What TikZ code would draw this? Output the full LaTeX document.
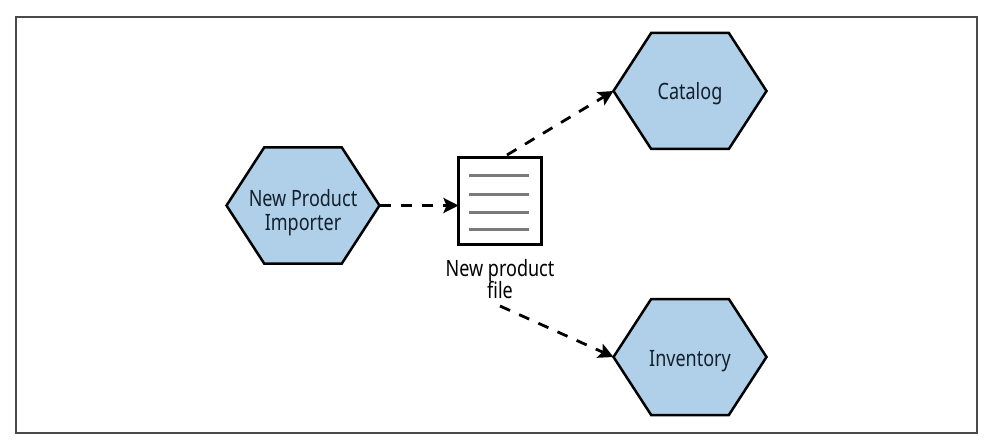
\documentclass[tikz,border=0pt]{standalone}
\usepackage{fontspec}
\setmainfont[FakeStretch=0.80]{Noto Sans}
\usetikzlibrary{shapes.symbols,arrows.meta}
\definecolor{hexblue}{HTML}{AFD0E8}
\definecolor{inkblue}{HTML}{14202C}
\definecolor{framegray}{HTML}{4A4A4A}
\definecolor{linegray}{HTML}{7A7A7A}
\newcommand{\hexlabel}[2]{\makebox[0pt]{\raisebox{#1}[0pt][0pt]{\begin{tabular}{@{}c@{}}#2\end{tabular}}}}
\tikzset{
  hexnode/.style={signal,signal to=west and east,signal pointer angle=114,draw=black,fill=hexblue,line width=2.5pt,
    minimum width=153pt,minimum height=116pt,inner sep=0pt,outer sep=0pt,align=center,
    text=inkblue,font=\fontsize{22.5}{24}\selectfont},
  docbox/.style={draw=black,fill=white,line width=2.4pt,minimum width=83pt,minimum height=87pt,inner sep=0pt,outer sep=0pt},
  docline/.style={draw=linegray,line width=3pt},
  doclabel/.style={text=black,align=center,inner sep=0pt,font=\fontsize{22.5}{22}\selectfont},
  flow/.style={line width=2.8pt,dash pattern=on 11pt off 10pt,-{Stealth[length=15pt,width=15pt,inset=3pt]}},
  framebox/.style={draw=framegray,line width=1.4pt}
}
\begin{document}
\begin{tikzpicture}[x=1pt,y=-1pt]
\useasboundingbox (0,0) rectangle (992,446);
\fill[white] (0,0) rectangle (992,446);
\draw[framebox] (16,17) rectangle (977,433);
\node[hexnode] (importer) at (303,205.5) {\hexlabel{-13.5pt}{New Product\\[0pt]Importer}};
\node[hexnode] (catalog) at (690,91) {\hexlabel{-9pt}{Catalog}};
\node[hexnode] (inventory) at (690,357) {\hexlabel{-10pt}{Inventory}};
\node[docbox] (doc) at (500,201) {};
\draw[docline] (469,176) -- (529,176);
\draw[docline] (469,195) -- (529,195);
\draw[docline] (469,213) -- (529,213);
\draw[docline] (469,230) -- (529,230);
\node[doclabel] (doclabel) at (500,279) {New product\\[-2pt]file};
\coordinate (importerend) at (doc.west |- importer.east);
\coordinate (catalogstart) at (507,155);
\coordinate (inventorystart) at (500,306);
\draw[flow] (importer.east) -- (importerend);
\draw[flow] (catalogstart) -- (catalog.west);
\draw[flow] (inventorystart) -- (inventory.west);
\end{tikzpicture}
\end{document}
